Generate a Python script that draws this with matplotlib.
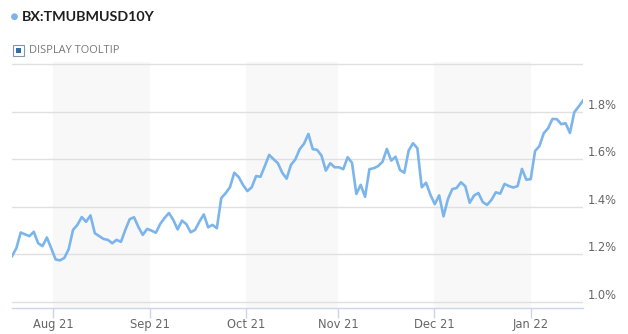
import matplotlib
matplotlib.use("Agg")
import matplotlib.pyplot as plt
from matplotlib.patches import Rectangle, Ellipse

title = "BX:TMUBMUSD10Y"
tooltip_label = "DISPLAY TOOLTIP"

values = [1.193, 1.226, 1.292, 1.284, 1.277, 1.295, 1.247, 1.235, 1.271, 1.226,
          1.179, 1.175, 1.185, 1.222, 1.303, 1.324, 1.357, 1.337, 1.364, 1.289,
          1.277, 1.265, 1.261, 1.247, 1.261, 1.253, 1.303, 1.348, 1.356, 1.315,
          1.282, 1.307, 1.300, 1.291, 1.328, 1.353, 1.374, 1.345, 1.305, 1.342,
          1.327, 1.293, 1.303, 1.338, 1.368, 1.314, 1.324, 1.310, 1.436, 1.457,
          1.482, 1.543, 1.525, 1.492, 1.466, 1.482, 1.529, 1.526, 1.571, 1.618,
          1.600, 1.583, 1.543, 1.518, 1.576, 1.599, 1.642, 1.665, 1.706, 1.642,
          1.639, 1.615, 1.552, 1.583, 1.566, 1.566, 1.558, 1.608, 1.585, 1.454,
          1.492, 1.442, 1.558, 1.562, 1.571, 1.589, 1.643, 1.594, 1.610, 1.555,
          1.543, 1.636, 1.667, 1.646, 1.482, 1.501, 1.450, 1.411, 1.448, 1.360,
          1.432, 1.474, 1.479, 1.503, 1.486, 1.417, 1.447, 1.458, 1.420, 1.408,
          1.429, 1.461, 1.455, 1.496, 1.487, 1.481, 1.487, 1.559, 1.514, 1.516,
          1.634, 1.655, 1.709, 1.730, 1.769, 1.768, 1.747, 1.751, 1.710, 1.797,
          1.821, 1.846]

x_tick_labels = ["Aug 21", "Sep 21", "Oct 21", "Nov 21", "Dec 21", "Jan 22"]
x_tick_pos = [9.4, 31.7, 53.7, 74.9, 96.9, 119.1]
y_ticks = [1.0, 1.2, 1.4, 1.6, 1.8, 2.0]
y_tick_labels = ["1.0%", "1.2%", "1.4%", "1.6%", "1.8%", ""]

W, H = 628, 334
fig = plt.figure(figsize=(W / 100, H / 100), dpi=100)
fig.patch.set_facecolor("white")

left, right, top, bottom = 12, 583, 62, 308
ax = fig.add_axes([left / W, 1 - bottom / H, (right - left) / W, (bottom - top) / H])
ax.set_facecolor("white")

xs = list(range(len(values)))
ax.set_xlim(0, len(values) - 1)
ax.set_ylim(0.975, 2.008)

# alternating month bands
for i in range(0, len(x_tick_pos) - 1, 2):
    ax.axvspan(x_tick_pos[i], x_tick_pos[i + 1], color="#f8f8f8", zorder=0, lw=0)

for yv in y_ticks:
    ax.axhline(yv, color="#e0e0e0", lw=1.0, zorder=1)

ax.plot(xs, values, color="#7cb5ec", lw=1.9, zorder=3, solid_joinstyle="round")

for s in ["top", "left", "right"]:
    ax.spines[s].set_visible(False)
ax.spines["bottom"].set_color("#ccd6eb")
ax.spines["bottom"].set_linewidth(1.0)

ax.set_xticks(x_tick_pos)
ax.set_xticklabels(x_tick_labels)
ax.tick_params(axis="x", length=7, width=1, color="#ccd6eb", labelcolor="#666666",
               labelsize=8.3, pad=0.5)

ax.set_yticks(y_ticks)
ax.set_yticklabels(y_tick_labels)
ax.yaxis.tick_right()
ax.tick_params(axis="y", length=0, pad=3.6, labelcolor="#666666", labelsize=8.3)
for lab in ax.get_yticklabels():
    lab.set_va("bottom")

# header
fig.patches.append(Ellipse((14.5 / W, 1 - 16.7 / H), 5.4 / W, 5.4 / H, transform=fig.transFigure,
                           color="#7cb5ec", zorder=5))
fig.text(21.5 / W, 1 - 17 / H, title, fontsize=10.3, fontweight="bold", family=["Lato", "DejaVu Sans"],
         color="#1e1e1e", va="center", ha="left")

fig.patches.append(Rectangle((13 / W, 1 - 56 / H), 11 / W, 11 / H, transform=fig.transFigure,
                             facecolor="white", edgecolor="#7f96ad", lw=0.8))
fig.patches.append(Rectangle((15.8 / W, 1 - 53.2 / H), 5.4 / W, 5.4 / H, transform=fig.transFigure,
                             facecolor="#2d6fa6", edgecolor="none"))
fig.text(29 / W, 1 - 50.5 / H, tooltip_label, fontsize=7.9, family=["Open Sans", "DejaVu Sans"],
         color="#777777", va="center", ha="left")

fig.savefig("out.png", dpi=100, facecolor="white")
